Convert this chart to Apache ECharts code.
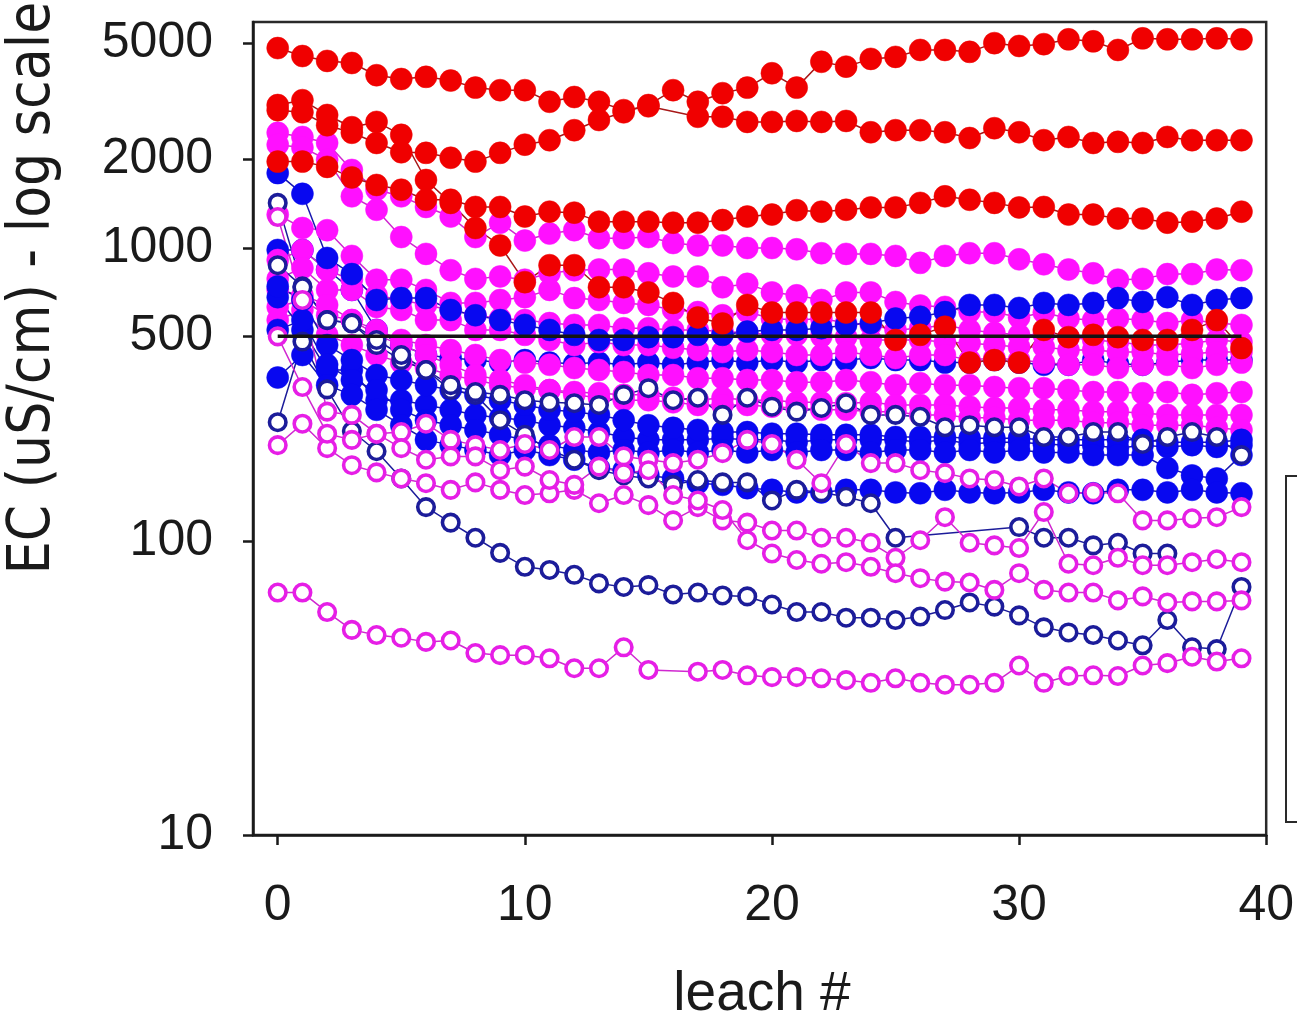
<!DOCTYPE html>
<html>
<head>
<meta charset="utf-8">
<title>EC per leach</title>
<script src="https://cdn.jsdelivr.net/npm/echarts@6/dist/echarts.min.js"></script>
<style>
  html, body { margin: 0; padding: 0; background: #fff; }
  #chart { width: 1297px; height: 1023px; }
</style>
</head>
<body>
<div id="chart"></div>
<script>
// leach number (x) and EC readings in uS/cm (y, log axis)
const leach = [0,1,2,3,4,5,6,7,8,9,10,11,12,13,14,15,16,17,18,19,20,21,22,23,24,25,26,27,28,29,30,31,32,33,34,35,36,37,38,39];
const xTicks = [0, 10, 20, 30, 40];
const yTicks = [10, 100, 500, 1000, 2000, 5000];
const refLevel = 500;
const refSpan = [0, 39];

// red, filled
const red1 = [4800,4510,4340,4270,3880,3765,3830,3720,3520,3450,3450,3150,3270,3150,2950,3040,null,2800,2800,2690,2690,2710,2690,2710,2480,2520,2520,2480,2370,2560,2480,2330,2390,2280,2300,2280,2390,2330,2330,2330];
const red2 = [2950,2900,2620,2470,2280,2120,2110,2030,1970,2110,2250,2330,2520,2730,2900,3070,3450,3150,3370,3520,3940,3520,4310,4150,4410,4480,4730,4730,4660,4990,4880,4950,5140,5060,4730,5180,5140,5140,5180,5140];
const red3 = [1970,1970,1890,1740,1640,1580,1460,1460,1380,1380,1280,1330,1320,1230,1230,1230,1220,1220,1245,1280,1300,1345,1330,1350,1375,1375,1425,1500,1460,1425,1375,1380,1300,1300,1260,1260,1220,1230,1260,1330];
const red4 = [3070,3190,2840,2580,2690,2430,1705,1425,1170,1020,765,874,874,735,735,706,650,580,553,640,603,603,603,603,603,486,506,539,407,415,407,526,497,506,497,486,486,526,568,456];

// magenta, filled
const mag1 = [2470,2390,2280,1845,1580,1500,1380,1280,1090,1220,1060,1120,1150,1080,1080,1090,1040,1020,1020,1000,1000,990,960,955,955,940,890,940,960,960,915,880,845,820,780,785,815,815,845,840];
const mag2 = [2250,2200,2000,1500,1350,1090,955,840,785,800,780,820,840,845,845,820,800,800,735,755,706,690,665,706,706,655,637,630,605,605,580,603,575,568,575,568,555,568,555,547];
const mag3 = [1300,1170,1150,940,780,780,720,650,650,665,680,720,675,665,650,640,615,605,590,605,575,568,575,555,547,526,533,547,526,514,506,506,497,486,478,467,467,474,486,478];
const mag4 = [910,985,840,780,690,665,640,615,590,575,568,555,547,547,533,533,526,526,519,514,506,506,500,497,486,486,486,478,474,467,460,460,449,449,442,442,432,436,442,442];
const mag5 = [785,855,720,720,630,615,568,568,526,526,506,486,467,478,467,467,457,449,442,449,442,432,432,442,432,422,432,432,415,422,415,407,400,400,390,400,400,390,400,407];
const mag6 = [630,665,590,568,526,486,467,449,432,415,407,400,390,384,378,369,369,360,360,355,355,349,349,355,349,341,346,341,341,336,333,333,328,323,323,320,323,316,320,323];
const mag7 = [568,615,506,467,432,407,390,369,355,341,333,328,323,320,316,316,309,303,309,303,303,298,298,296,298,292,292,292,288,285,285,281,281,277,277,274,270,270,270,270];
const mag8 = [720,690,640,568,506,467,432,400,369,355,341,328,316,309,303,303,298,292,292,292,288,285,281,281,277,277,270,270,264,264,259,259,259,254,254,249,249,249,244,240];

// blue, filled
const blue1 = [1800,1530,925,815,665,675,675,615,590,568,547,526,506,486,486,497,497,506,506,519,526,526,533,547,555,575,583,605,640,640,625,650,640,650,675,655,680,640,665,675];
const blue2 = [985,985,845,720,526,467,432,422,415,407,415,407,403,407,400,407,400,407,415,407,415,407,415,415,422,415,415,407,407,415,407,400,400,415,403,400,407,415,415,415];
const blue3 = [680,526,384,384,303,303,292,281,270,264,259,249,244,236,227,222,222,222,225,222,222,218,222,222,222,222,218,222,215,218,218,215,213,213,208,213,210,213,210,213];
const blue4 = [740,665,467,415,369,355,341,328,316,303,292,281,277,270,259,249,244,240,236,236,233,233,231,231,231,227,227,227,225,225,225,222,222,222,222,222,218,218,218,222];
const blue5 = [526,568,400,355,328,281,259,249,240,231,222,213,205,201,205,201,205,201,205,201,205,201,205,205,201,205,205,201,205,201,205,201,201,197,197,197,178,168,164,197];
const blue6 = [362,432,341,316,281,249,222,213,205,197,205,197,190,178,175,168,164,158,156,152,150,147,147,150,150,147,146,150,147,146,147,150,147,146,150,150,147,150,147,146];

// blue, open
const blueOpen1 = [255,480,330,238,203,164,131,116,103,91.5,82,80,77,72,70,71,66,67,65.5,65,61,57.5,57.5,55,55,54,55.5,58.4,62,60,56,51,49,48,46,44.3,54,43.6,43,70];
const blueOpen2 = [874,740,568,555,467,415,384,328,316,259,231,205,190,175,168,164,156,162,159,159,138,150,147,142,135,103,null,null,null,null,112,103,103,97,99,91,91,null,null,null];
const blueOpen3 = [1425,735,568,553,486,432,384,341,323,316,303,298,296,292,316,333,303,309,270,309,288,277,285,296,270,270,266,245,249,245,245,227,227,236,236,215,227,236,227,197];

// magenta, open
const magOpen1 = [1275,665,277,270,233,236,252,222,213,205,215,205,227,227,195,190,185,190,200,222,215,190,158,215,185,185,175,171,164,162,154,164,146,147,146,118,118,120,121,131];
const magOpen2 = [213,252,208,182,172,164,158,150,159,150,144,146,150,135,144,133,118,131,118,116,109,109,103,103,99,88,101,121,99,97,95,126,84,83,88,83,83,85,87,85];
const magOpen3 = [500,336,233,222,233,208,190,195,195,175,180,162,156,180,171,175,144,138,128,101,91,86.5,84,85,82,78,75,73,72.5,68.4,78,68.4,67,67,63,65,62,62.5,62.5,63];
const magOpen4 = [67,67,57.5,50,48,47,45.5,46,41.7,41,41,40,37,37,43.6,36.5,null,36,36.5,35,34.5,34.5,34.2,33.7,33,34.2,33,32.5,32.5,33,37.8,33,34.8,35,34.8,37.8,38.5,40.5,39,40];

const RED = '#F00000', RED_LINE = '#A81818';
const MAG = '#FF10FF', MAG_LINE = '#D028D0';
const BLUE = '#0808F0', BLUE_LINE = '#1818B0';
const NAVY = '#1C1C9A';
const MAG_RING = '#E61EE6';

function pairs(vals) {
  return vals.map((v, i) => [leach[i], v]);
}

function filledSeries(name, vals, fill, line) {
  return {
    type: 'line', name, data: pairs(vals), connectNulls: true,
    symbol: 'circle', symbolSize: 22,
    itemStyle: { color: fill, borderColor: fill, borderWidth: 0.5 },
    lineStyle: { color: line, width: 1.5 },
    emphasis: { disabled: true }
  };
}

function openSeries(name, vals, ring, line) {
  return {
    type: 'line', name, data: pairs(vals), connectNulls: true,
    symbol: 'circle', symbolSize: 16.5,
    itemStyle: { color: '#ffffff', borderColor: ring, borderWidth: 3.6 },
    lineStyle: { color: line, width: 1.5 },
    emphasis: { disabled: true }
  };
}

// drawing order: later entries sit on top
const series = [
  filledSeries('B2', blue2, BLUE, BLUE_LINE),
  filledSeries('M1', mag1, MAG, MAG_LINE),
  filledSeries('M2', mag2, MAG, MAG_LINE),
  filledSeries('M3', mag3, MAG, MAG_LINE),
  filledSeries('M4', mag4, MAG, MAG_LINE),
  filledSeries('M5', mag5, MAG, MAG_LINE),
  filledSeries('M6', mag6, MAG, MAG_LINE),
  filledSeries('M7', mag7, MAG, MAG_LINE),
  filledSeries('M8', mag8, MAG, MAG_LINE),
  filledSeries('B1', blue1, BLUE, BLUE_LINE),
  filledSeries('B3', blue3, BLUE, BLUE_LINE),
  filledSeries('B4', blue4, BLUE, BLUE_LINE),
  filledSeries('B5', blue5, BLUE, BLUE_LINE),
  filledSeries('B6', blue6, BLUE, BLUE_LINE),
  openSeries('BO1', blueOpen1, NAVY, NAVY),
  openSeries('BO2', blueOpen2, NAVY, NAVY),
  openSeries('BO3', blueOpen3, NAVY, NAVY),
  openSeries('MO1', magOpen1, MAG_RING, MAG_LINE),
  openSeries('MO2', magOpen2, MAG_RING, MAG_LINE),
  openSeries('MO3', magOpen3, MAG_RING, MAG_LINE),
  openSeries('MO4', magOpen4, MAG_RING, MAG_LINE),
  filledSeries('R1', red1, RED, RED_LINE),
  filledSeries('R2', red2, RED, RED_LINE),
  filledSeries('R3', red3, RED, RED_LINE),
  filledSeries('R4', red4, RED, RED_LINE),
  {
    type: 'line', name: 'EC 500', showSymbol: false, symbol: 'none',
    data: refSpan.map(x => [x, refLevel]),
    lineStyle: { color: '#141414', width: 3.5 },
    emphasis: { disabled: true }, z: 5
  }
];

const labelFont = '"Liberation Sans", Arial, sans-serif';

const chart = echarts.init(document.getElementById('chart'), null, { renderer: 'canvas' });
chart.setOption({
  animation: false,
  backgroundColor: '#ffffff',
  grid: {
    left: 253, right: 29, top: 22, bottom: 188,
    show: true, borderColor: '#2a2a2a', borderWidth: 2.5, backgroundColor: 'transparent'
  },
  xAxis: {
    type: 'value', min: -1, max: 40,
    splitLine: { show: false },
    axisLine: { show: true, onZero: false, lineStyle: { color: '#1a1a1a', width: 2.5 } },
    axisTick: { show: true, inside: false, length: 10, customValues: xTicks, lineStyle: { color: '#1a1a1a', width: 2.5 } },
    axisLabel: { customValues: xTicks, fontSize: 50, margin: 46, color: '#1a1a1a', fontFamily: labelFont }
  },
  yAxis: {
    type: 'log', logBase: 10, min: 10, max: 5890,
    splitLine: { show: false },
    minorTick: { show: false },
    axisLine: { show: true, onZero: false, lineStyle: { color: '#1a1a1a', width: 2.5 } },
    axisTick: { show: true, inside: false, length: 10, customValues: yTicks, lineStyle: { color: '#1a1a1a', width: 2.5 } },
    axisLabel: {
      customValues: yTicks, fontSize: 50, margin: 40, color: '#1a1a1a', fontFamily: labelFont,
      formatter: v => String(Math.round(v))
    }
  },
  graphic: [
    {
      type: 'text',
      x: 34, y: 288, rotation: Math.PI / 2,
      style: {
        text: 'EC (uS/cm) - log scale', fill: '#1a1a1a',
        font: '58px "Liberation Sans Narrow", "DejaVu Sans Condensed", sans-serif',
        textAlign: 'center', textVerticalAlign: 'middle'
      }
    },
    {
      type: 'text',
      x: 762, y: 995,
      style: {
        text: 'leach #', fill: '#1a1a1a',
        font: '55px "Liberation Sans", Arial, sans-serif',
        textAlign: 'center', textVerticalAlign: 'middle'
      }
    },
    {
      type: 'rect',
      shape: { x: 1286, y: 476, width: 60, height: 346 },
      style: { fill: '#ffffff', stroke: '#2a2a2a', lineWidth: 2 }
    }
  ],
  series
});
</script>
</body>
</html>
